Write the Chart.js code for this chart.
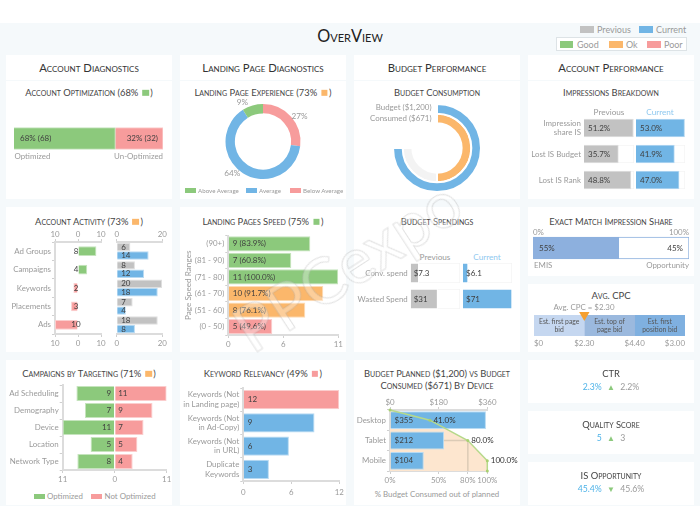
<!DOCTYPE html>
<html>
<head>
<meta charset="utf-8">
<script src="https://cdn.jsdelivr.net/npm/chart.js@4"></script>
<style>
  html, body { margin: 0; padding: 0; background: #fff; }
  #board { position: relative; width: 700px; height: 530px; overflow: hidden; font-family: Lato, sans-serif; color: #9a9a9a; }
  #board canvas { position: absolute; }
  .bg { position: absolute; left: 0; top: 23px; width: 700px; height: 483px; background: #f5f9fb; }
  .card { position: absolute; background: #fff; }
  .box { position: absolute; }
  .t { position: absolute; white-space: nowrap; transform: translateY(-50%); line-height: 1.1; font-size: 7.9px; }
  .t.c { transform: translate(-50%, -50%); text-align: center; }
  .t.r { transform: translate(-100%, -50%); text-align: right; }
  .title { font-variant: small-caps; color: #444; font-size: 9.4px; }
  .head { font-variant: small-caps; color: #333; font-size: 11.3px; }
  .legend { font-size: 9px; }
  .swatch { display: inline-block; width: 6.5px; height: 6.5px; margin: 0 1.5px; }
  #mark { position: absolute; left: 347px; top: 265px; transform: translate(-50%, -50%) rotate(-33deg); font-size: 64px; line-height: 1;
    color: rgba(255,255,255,.32); -webkit-text-stroke: 1px rgba(160,160,160,.3); pointer-events: none; white-space: nowrap; z-index: 5; }
</style>
</head>
<body>
<div id="board"><div class="bg"></div></div>
<script>
// colours
const GREEN = '#8cc97c', RED = '#f79c9c', BLUE = '#71b5e5', ORANGE = '#fbb76b', GREY = '#c2c2c2'
const GREEN_EDGE = '#c5e4bd', RED_EDGE = '#fbcdcd', BLUE_EDGE = '#b8daf2', ORANGE_EDGE = '#fddbb5', GREY_EDGE = '#e0e0e0'
const AXIS = '#dcdcdc', TICK = '#9a9a9a', INK = '#3f3f3f'

// account optimization
const optimizedShare = [68], unOptimizedShare = [32]
// landing page experience
const experienceNames = ['Above Average', 'Average', 'Below Average']
const experienceValues = [27, 64, 9]
const experienceLabels = ['27%', '64%', '9%']
// budget consumption
const budgetRing = [100], consumedRing = [66.7, 33.3]
// impressions breakdown
const impressionRows = [['Impression', 'share IS'], 'Lost IS Budget', 'Lost IS Rank']
const impressionPrevious = [51.2, 35.7, 48.8]
const impressionCurrent = [53.0, 41.9, 47.0]
// account activity
const activityRows = ['Ad Groups', 'Campaigns', 'Keywords', 'Placements', 'Ads']
const activityChange = [8, 4, -2, -3, -10]
const activityPrevious = [6, 8, 20, 7, 18]
const activityCurrent = [14, 12, 18, 4, 8]
// landing pages speed
const speedRows = ['(90+)', '(81 - 90)', '(71 - 80)', '(61 - 70)', '(51 - 60)', '(0 - 50)']
const speedBars = [8.2, 6.3, 11, 9.5, 7.7, 4.4]
const speedLabels = ['9 (83.9%)', '7 (60.8%)', '11 (100.0%)', '10 (91.7%)', '8 (76.1%)', '5 (49.6%)']
// budget spendings
const spendRows = ['Conv. spend', 'Wasted Spend']
const spendPrevious = [7.3, 31]
const spendCurrent = [6.1, 71]
// exact match impression share
const emisShare = [55], emisOpportunity = [45]
// avg. cpc
const cpcBands = [1, 1, 1]
const cpcTicks = ['$0', '$2.30', '$4.40', '$3.00']
// campaigns by targeting
const campaignRows = ['Ad Scheduling', 'Demography', 'Device', 'Location', 'Network Type']
const campaignOptimizedBars = [-8.1, -6.3, -11, -5.1, -7.9]
const campaignNotOptimizedBars = [11, 8, 6.1, 4.8, 3.8]
const campaignOptimized = ['9', '7', '11', '5', '8']
const campaignNotOptimized = ['11', '9', '7', '5', '4']
// keyword relevancy
const keywordRows = [['Keywords (Not', 'in Landing page)'], ['Keywords (Not', 'in Ad-Copy)'], ['Keywords (Not', 'in URL)'], ['Duplicate', 'Keywords']]
const keywordValues = [12, 8.9, 5.7, 3.2]
const keywordLabels = ['12', '9', '6', '3']
// budget by device
const deviceRows = ['Desktop', 'Tablet', 'Mobile']
const deviceBars = [355, 200, 125]
const deviceLabels = ['$355', '$212', '$104']
const cumulativeX = [0, 41, 80, 100, 100]
const cumulativeY = [3, 2.5, 1.5, 0.5, 0]
const cumulativeLabels = ['', '41.0%', '80.0%', '100.0%', '']
const percentTicks = [0, 50, 80, 100]

const board = document.getElementById('board')

function card (x, y, w, h) {
  const el = document.createElement('div')
  el.className = 'card'
  el.style.cssText = `left:${x}px;top:${y}px;width:${w}px;height:${h}px`
  board.appendChild(el)
  return el
}

function text (x, y, str, cls, style) {
  const el = document.createElement('div')
  el.className = 't ' + (cls || '')
  el.style.cssText = `left:${x}px;top:${y}px;` + (style || '')
  el.innerHTML = str
  board.appendChild(el)
  return el
}

function swatch (x, y, w, h, color, style) {
  const el = document.createElement('div')
  el.className = 'box'
  el.style.cssText = `left:${x}px;top:${y}px;width:${w}px;height:${h}px;background:${color};` + (style || '')
  board.appendChild(el)
  return el
}

// label drawn next to each bar or point, read from dataset.valueLabels
const valueLabels = {
  id: 'valueLabels',
  afterDatasetsDraw (chart) {
    const ctx = chart.ctx
    chart.data.datasets.forEach((ds, d) => {
      if (!ds.valueLabels) return
      chart.getDatasetMeta(d).data.forEach((el, i) => {
        const str = ds.valueLabels[i]
        if (!str) return
        const off = ds.labelOffset || 0
        const size = ds.labelSize || 8
        let x = el.x + off
        if (ds.labelAnchor === 'base') x = el.base + off
        if (ds.labelAnchor === 'zero') x = chart.scales[ds.xAxisID || 'x'].getPixelForValue(0) + off
        if (ds.labelAnchor === 'center') x = (el.x + el.base) / 2
        ctx.save()
        ctx.font = size + 'px Lato'
        ctx.fillStyle = ds.labelColor || INK
        ctx.textBaseline = 'middle'
        ctx.textAlign = ds.labelAnchor === 'center' ? 'center' : (ds.labelAlign || (off < 0 ? 'right' : 'left'))
        const lines = Array.isArray(str) ? str : [str]
        lines.forEach((line, n) => ctx.fillText(line, x, el.y + (n - (lines.length - 1) / 2) * (size + 1.5)))
        ctx.restore()
      })
    })
  }
}
Chart.register(valueLabels)

Chart.defaults.font.family = 'Lato, sans-serif'
Chart.defaults.font.size = 7.9
Chart.defaults.color = TICK
Chart.defaults.animation = false
Chart.defaults.responsive = false
Chart.defaults.layout.autoPadding = false
Chart.defaults.plugins.legend.display = false
Chart.defaults.plugins.tooltip.enabled = false
Chart.defaults.events = []

function draw (x, y, w, h, config) {
  const canvas = document.createElement('canvas')
  canvas.width = w
  canvas.height = h
  canvas.style.cssText = `left:${x}px;top:${y}px;width:${w}px;height:${h}px`
  board.appendChild(canvas)
  config.options = config.options || {}
  config.options.devicePixelRatio = 1
  return new Chart(canvas, config)
}

// fixed axis sizes, so the plot areas land where they should
function fitW (w) { return s => { s.width = w; s.paddingTop = 0; s.paddingBottom = 0 } }
function fitH (h) { return s => { s.height = h; s.paddingLeft = 0; s.paddingRight = 0 } }
function pad (left, top, right, bottom) { return { padding: { left, top, right, bottom } } }
const hidden = { display: false }
function edge (width) { return { color: AXIS, width: width || 2 } }
const tickGrid = { drawOnChartArea: false, tickLength: 3, color: '#cfcfcf' }

// plain layout pieces
card(6, 55, 166, 25); card(180, 55, 166, 25); card(354, 55, 166, 25); card(528, 55, 166, 25)
card(6, 81, 166, 118); card(180, 81, 166, 118); card(354, 81, 166, 118); card(528, 81, 166, 118)
card(6, 207, 166, 145); card(180, 207, 166, 145); card(354, 207, 166, 145)
card(528, 207, 166, 69); card(528, 284, 166, 68)
card(6, 360, 166, 145); card(180, 360, 166, 145); card(354, 360, 166, 145)
card(528, 360, 166, 43); card(528, 411, 166, 43); card(528, 462, 166, 43)

text(350, 36, 'OverView', 'c', 'font-variant:small-caps;font-size:16.3px;color:#222')
swatch(580, 26, 14, 7, GREY); text(597, 29.5, 'Previous', 'legend')
swatch(639, 26, 14, 7, BLUE); text(656, 29.5, 'Current', 'legend')
swatch(555.5, 37, 131, 14, '#fff', 'box-sizing:border-box;border:1px solid #dde3e6')
swatch(560, 41, 13, 7, GREEN); text(577, 44.5, 'Good', 'legend')
swatch(609, 41, 14, 7, ORANGE); text(626, 44.5, 'Ok', 'legend')
swatch(647, 41, 14, 7, RED); text(664, 44.5, 'Poor', 'legend')

text(89, 68, 'Account Diagnostics', 'c head')
text(263, 68, 'Landing Page Diagnostics', 'c head')
text(437, 68, 'Budget Performance', 'c head')
text(611, 68, 'Account Performance', 'c head')

const chip = c => `<span class="swatch" style="background:${c}"></span>`
text(89, 93, `Account Optimization (68% ${chip(GREEN)})`, 'c title')
text(263, 93, `Landing Page Experience (73% ${chip(ORANGE)})`, 'c title')
text(437, 93, 'Budget Consumption', 'c title')
text(611, 93, 'Impressions Breakdown', 'c title')
text(89, 222, `Account Activity (73% ${chip(ORANGE)})`, 'c title')
text(263, 222, `Landing Pages Speed (75% ${chip(GREEN)})`, 'c title')
text(437, 222, 'Budget Spendings', 'c title')
text(611, 222, 'Exact Match Impression Share', 'c title')
text(611, 296, 'Avg. CPC', 'c title', 'font-size:9.5px')
text(89, 374, `Campaigns by Targeting (71% ${chip(ORANGE)})`, 'c title')
text(263, 374, `Keyword Relevancy (49% ${chip(RED)})`, 'c title')
text(437, 373.5, 'Budget Planned ($1,200) vs Budget', 'c title')
text(437, 386, 'Consumed ($671) By Device', 'c title')

// account optimization
draw(14, 125, 149, 27, {
  type: 'bar',
  data: {
    labels: ['Account'],
    datasets: [
      { data: optimizedShare, backgroundColor: GREEN, borderColor: GREEN_EDGE, borderWidth: 1, barThickness: 22, valueLabels: ['68% (68)'], labelAnchor: 'base', labelOffset: 6 },
      { data: unOptimizedShare, backgroundColor: RED, borderColor: RED_EDGE, borderWidth: 1, barThickness: 22, valueLabels: ['32% (32)'], labelOffset: -5 }
    ]
  },
  options: {
    indexAxis: 'y',
    scales: { x: { display: false, stacked: true, min: 0, max: 100 }, y: { display: false, stacked: true } }
  }
})
text(14.5, 156, 'Optimized')
text(163, 156, 'Un-Optimized', 'r')

// landing page experience, labels sit outside the ring
const donutLabels = {
  id: 'donutLabels',
  afterDatasetsDraw (chart) {
    const ctx = chart.ctx
    const shift = [0.11, 0.2, -0.2]
    chart.getDatasetMeta(0).data.forEach((arc, i) => {
      const mid = (arc.startAngle + arc.endAngle) / 2 + shift[i]
      const r = arc.outerRadius + 7
      ctx.font = '8.2px Lato'
      ctx.fillStyle = TICK
      ctx.textAlign = 'center'
      ctx.textBaseline = 'middle'
      ctx.fillText(experienceLabels[i], arc.x + Math.cos(mid) * r, arc.y + Math.sin(mid) * r)
    })
  }
}
draw(180, 98, 166, 85, {
  type: 'doughnut',
  data: { labels: [experienceNames[2], experienceNames[1], experienceNames[0]], datasets: [{ data: experienceValues, backgroundColor: [RED, BLUE, GREEN], borderWidth: 0, hoverOffset: 0 }] },
  options: { cutout: '75%', layout: pad(45.5, 6, 45.5, 4) },
  plugins: [donutLabels]
})
swatch(185, 188, 11, 5, GREEN); text(198, 190.5, experienceNames[0], '', 'font-size:6.2px')
swatch(246, 188, 11, 5, BLUE); text(259, 190.5, experienceNames[1], '', 'font-size:6.2px')
swatch(290, 188, 11, 5, RED); text(303, 190.5, experienceNames[2], '', 'font-size:6.2px')

// budget consumption
draw(354, 100, 166, 96, {
  type: 'doughnut',
  data: {
    labels: ['Budget', 'Consumed', 'Left'],
    datasets: [
      { data: budgetRing, backgroundColor: [BLUE], borderColor: '#fff', borderWidth: 2, hoverOffset: 0 },
      { data: consumedRing, backgroundColor: [ORANGE, '#f3f3f3'], borderColor: '#fff', borderWidth: 2, hoverOffset: 0 }
    ]
  },
  options: { circumference: 270, cutout: '56%', layout: pad(38, 3, 38, 3) }
})
text(431.5, 107, 'Budget ($1,200)', 'r')
text(431.5, 117.5, 'Consumed ($671)', 'r')

// impressions breakdown
const impressionBar = (values, labels, color, rim, edgeColor, max) => [
  { data: values, backgroundColor: color, borderColor: edgeColor, borderWidth: 1, barThickness: 18, grouped: false, order: 1, valueLabels: labels, labelAnchor: 'base', labelOffset: 4 },
  { data: values.map(() => max), backgroundColor: '#fff', borderColor: rim, borderWidth: 1, barThickness: 18, grouped: false, order: 2 }
]
text(609, 112.5, 'Previous', 'c', 'font-size:8.2px')
text(660, 112.5, 'Current', 'c', 'font-size:8.2px;color:#8fc8ef')
draw(528, 115, 107, 78, {
  type: 'bar',
  data: { labels: impressionRows, datasets: impressionBar(impressionPrevious, impressionPrevious.map(v => v.toFixed(1) + '%'), GREY, '#f4f4f4', GREY_EDGE, 52) },
  options: {
    indexAxis: 'y',
    layout: pad(0, 0, 1, 0),
    scales: {
      x: { display: false, min: 0, max: 52 },
      y: { afterFit: fitW(56), grid: { display: false, drawTicks: false }, border: { display: false }, ticks: { padding: 3, autoSkip: false } }
    }
  }
})
draw(635, 115, 52, 78, {
  type: 'bar',
  data: { labels: impressionRows, datasets: impressionBar(impressionCurrent, impressionCurrent.map(v => v.toFixed(1) + '%'), BLUE, '#f4f4f4', BLUE_EDGE, 53.5) },
  options: {
    indexAxis: 'y',
    layout: pad(1, 0, 2, 0),
    scales: { x: { display: false, min: 0, max: 53.5 }, y: hidden }
  }
})

// account activity, change side
draw(6, 228, 100, 122, {
  type: 'bar',
  data: {
    labels: activityRows,
    datasets: [{
      data: activityChange,
      backgroundColor: activityChange.map(v => v > 0 ? GREEN : RED),
      borderColor: activityChange.map(v => v > 0 ? GREEN_EDGE : RED_EDGE),
      borderWidth: 1,
      categoryPercentage: 1,
      barPercentage: 0.53,
      valueLabels: activityChange.map(v => String(Math.abs(v))),
      labelAnchor: 'zero',
      labelOffset: -2,
      labelAlign: 'center'
    }]
  },
  options: {
    indexAxis: 'y',
    layout: pad(0, 0, 5, 0),
    scales: {
      x: { position: 'top', min: -10, max: 10, afterFit: fitH(14), grid: tickGrid, border: edge(), ticks: { stepSize: 10, padding: 0, maxRotation: 0, callback: v => Math.abs(v) } },
      x2: { axis: 'x', position: 'bottom', min: -10, max: 10, afterFit: fitH(16), grid: tickGrid, border: edge(), ticks: { stepSize: 10, padding: 2, maxRotation: 0, callback: v => Math.abs(v) } },
      y: { afterFit: fitW(49), grid: tickGrid, border: edge(), ticks: { padding: 1, autoSkip: false } }
    }
  }
})
// account activity, previous and current side
draw(110, 228, 58, 122, {
  type: 'bar',
  data: {
    labels: activityRows,
    datasets: [
      { label: 'Previous', data: activityPrevious, backgroundColor: GREY, borderColor: GREY_EDGE, borderWidth: 1, categoryPercentage: 0.92, barPercentage: 1, valueLabels: activityPrevious.map(String), labelAnchor: 'base', labelOffset: 4 },
      { label: 'Current', data: activityCurrent, backgroundColor: BLUE, borderColor: BLUE_EDGE, borderWidth: 1, categoryPercentage: 0.92, barPercentage: 1, valueLabels: activityCurrent.map(String), labelAnchor: 'base', labelOffset: 4 }
    ]
  },
  options: {
    indexAxis: 'y',
    layout: pad(6.7, 0, 5.7, 0),
    scales: {
      x: { position: 'top', min: 0, max: 20, afterFit: fitH(14), grid: tickGrid, border: edge(), ticks: { stepSize: 20, padding: 0, maxRotation: 0 } },
      x2: { axis: 'x', position: 'bottom', min: 0, max: 20, afterFit: fitH(16), grid: tickGrid, border: edge(), ticks: { stepSize: 20, padding: 2, maxRotation: 0 } },
      y: hidden
    }
  }
})

// landing pages speed
draw(180, 230, 166, 122, {
  type: 'bar',
  data: {
    labels: speedRows,
    datasets: [{
      data: speedBars,
      backgroundColor: [GREEN, GREEN, GREEN, ORANGE, ORANGE, RED],
      borderColor: [GREEN_EDGE, GREEN_EDGE, GREEN_EDGE, ORANGE_EDGE, ORANGE_EDGE, RED_EDGE],
      borderWidth: 1,
      categoryPercentage: 1,
      barPercentage: 0.92,
      valueLabels: speedLabels,
      labelAnchor: 'base',
      labelOffset: 4
    }]
  },
  options: {
    indexAxis: 'y',
    layout: pad(0, 5.5, 7.7, 0),
    scales: {
      x: { min: 0, max: 11, afterFit: fitH(17), grid: tickGrid, border: edge(), ticks: { stepSize: 5.5, padding: 2, maxRotation: 0, callback: v => Math.round(v) } },
      y: { afterFit: fitW(48.3), grid: tickGrid, border: edge(), ticks: { padding: 1, autoSkip: false }, title: { display: true, text: 'Page Speed Ranges', font: { size: 8.2 }, color: TICK, padding: { top: 3, bottom: 0 } } }
    }
  }
})

// budget spendings
text(435, 257.5, 'Previous', 'c', 'font-size:8.2px')
text(487, 257.5, 'Current', 'c', 'font-size:8.2px;color:#8fc8ef')
const spendBar = (values, color, edgeColor, max, least) => [
  { data: values, backgroundColor: color, borderColor: edgeColor, borderWidth: 1, barThickness: 20, minBarLength: least, grouped: false, order: 1, valueLabels: values.map(v => '$' + v), labelAnchor: 'base', labelOffset: 3 },
  { data: values.map(() => max), backgroundColor: '#fff', borderColor: '#f4f4f4', borderWidth: 1, barThickness: 20, grouped: false, order: 2 }
]
draw(354, 260, 107, 52, {
  type: 'bar',
  data: { labels: spendRows, datasets: spendBar(spendPrevious, GREY, '#fff', 57, 8) },
  options: {
    indexAxis: 'y',
    layout: pad(0, 0, 1, 0),
    scales: {
      x: { display: false, min: 0, max: 57 },
      y: { afterFit: fitW(56.7), grid: { display: false, drawTicks: false }, border: { display: false }, ticks: { padding: 3, autoSkip: false } }
    }
  }
})
draw(461, 260, 53, 52, {
  type: 'bar',
  data: { labels: spendRows, datasets: spendBar(spendCurrent, BLUE, '#fff', 71, 5) },
  options: {
    indexAxis: 'y',
    layout: pad(2, 0, 2, 0),
    scales: { x: { display: false, min: 0, max: 71 }, y: hidden }
  }
})

// exact match impression share
text(533, 232, '0%')
text(689, 232, '100%', 'r')
draw(533, 236, 156, 24, {
  type: 'bar',
  data: {
    labels: ['EMIS'],
    datasets: [
      { data: emisShare, backgroundColor: '#8db0de', borderColor: '#8db0de', borderWidth: 1, barThickness: 22, valueLabels: ['55%'], labelAnchor: 'base', labelOffset: 6 },
      { data: emisOpportunity, backgroundColor: '#fff', borderColor: '#8db0de', borderWidth: 1, barThickness: 22, valueLabels: ['45%'], labelOffset: -6 }
    ]
  },
  options: {
    indexAxis: 'y',
    scales: { x: { display: false, stacked: true, min: 0, max: 100 }, y: { display: false, stacked: true } }
  }
})
text(534, 265, 'EMIS')
text(689, 265, 'Opportunity', 'r')

// avg. cpc
text(584, 307, 'Avg. CPC = $2.30', 'c')
const bandNames = [['Est. first page', 'bid'], ['Est. top of', 'page bid'], ['Est. first', 'position bid']]
const bandColors = ['#c5d7f0', '#9bb9de', '#7fb0e0']
draw(534, 305, 151, 47, {
  type: 'bar',
  data: {
    labels: ['CPC'],
    datasets: [
      ...cpcBands.map((v, i) => ({ data: [v], backgroundColor: bandColors[i], barThickness: 21, grouped: false, order: 2, valueLabels: [bandNames[i]], labelAnchor: 'center', labelSize: 6.8, labelColor: '#555' })),
      { type: 'line', indexAxis: 'x', yAxisID: 'mark', data: [{ x: 1, y: 1 }], pointStyle: 'triangle', rotation: 180, pointRadius: 6, backgroundColor: '#f5a030', borderWidth: 0, clip: false, order: 0 }
    ]
  },
  options: {
    indexAxis: 'y',
    layout: pad(0, 10, 0, 0),
    scales: {
      x: { type: 'linear', stacked: true, min: 0, max: 3, afterFit: fitH(16), grid: { display: false, drawTicks: false }, border: { display: false }, ticks: { stepSize: 1, padding: 3, align: 'inner', maxRotation: 0, callback: v => cpcTicks[v] } },
      y: { type: 'category', display: false, stacked: true },
      mark: { type: 'linear', axis: 'y', display: false, offset: false, min: 0, max: 1 }
    }
  }
})

// kpi cards
const kpi = (y, title, now, arrow, before) => {
  text(611, y, title, 'c title')
  text(611, y + 13, `<span style="color:#4fb3e8">${now}</span> <span style="color:${GREEN};font-size:8px;margin:0 3px">${arrow}</span> <span>${before}</span>`, 'c', 'font-size:8.7px')
}
kpi(374, 'CTR', '2.3%', '▲', '2.2%')
kpi(425, 'Quality Score', '5', '▲', '3')
kpi(476, 'IS Opportunity', '45.4%', '▼', '45.6%')

// campaigns by targeting
draw(6, 380, 166, 108, {
  type: 'bar',
  data: {
    labels: campaignRows,
    datasets: [
      { label: 'Optimized', data: campaignOptimizedBars, backgroundColor: GREEN, borderColor: GREEN_EDGE, borderWidth: 1, categoryPercentage: 1, barPercentage: 0.88, valueLabels: campaignOptimized, labelAnchor: 'base', labelOffset: -3 },
      { label: 'Not Optimized', data: campaignNotOptimizedBars, backgroundColor: RED, borderColor: RED_EDGE, borderWidth: 1, categoryPercentage: 1, barPercentage: 0.88, valueLabels: campaignNotOptimized, labelAnchor: 'base', labelOffset: 3 }
    ]
  },
  options: {
    indexAxis: 'y',
    layout: pad(0, 5, 5.3, 0),
    scales: {
      x: { stacked: true, min: -11, max: 11, afterFit: fitH(18), grid: tickGrid, border: edge(), ticks: { stepSize: 11, padding: 2, maxRotation: 0, callback: v => Math.abs(v) } },
      y: { stacked: true, afterFit: fitW(56.7), grid: tickGrid, border: edge(), ticks: { padding: 1, autoSkip: false } }
    }
  }
})
swatch(34, 493.5, 10.5, 5, GREEN); text(47, 496, 'Optimized')
swatch(91, 493.5, 10.5, 5, RED); text(104.5, 496, 'Not Optimized')

// keyword relevancy
draw(180, 384, 166, 117, {
  type: 'bar',
  data: {
    labels: keywordRows,
    datasets: [{
      data: keywordValues,
      backgroundColor: [RED, BLUE, BLUE, BLUE],
      borderColor: [RED_EDGE, BLUE_EDGE, BLUE_EDGE, BLUE_EDGE],
      borderWidth: 1,
      categoryPercentage: 1,
      barPercentage: 0.83,
      valueLabels: keywordLabels,
      labelAnchor: 'base',
      labelOffset: 4
    }]
  },
  options: {
    indexAxis: 'y',
    layout: pad(0, 4, 6.7, 0),
    scales: {
      x: { min: 0, max: 12, afterFit: fitH(20), grid: tickGrid, border: edge(), ticks: { stepSize: 6, padding: 4, maxRotation: 0 } },
      y: { afterFit: fitW(63.3), grid: tickGrid, border: edge(), ticks: { padding: 1, autoSkip: false } }
    }
  }
})

// budget planned vs consumed by device
const cumulativePoints = cumulativeX.map((x, i) => ({ x, y: cumulativeY[i] }))
draw(354, 396, 166, 91, {
  type: 'bar',
  data: {
    labels: deviceRows,
    datasets: [
      { label: 'Consumed', data: deviceBars, backgroundColor: BLUE, borderColor: BLUE_EDGE, borderWidth: 1, categoryPercentage: 1, barPercentage: 0.88, grouped: false, order: 1, valueLabels: deviceLabels, labelAnchor: 'base', labelOffset: 4 },
      { type: 'line', indexAxis: 'x', xAxisID: 'pct', yAxisID: 'share', data: cumulativePoints, borderWidth: 0, pointRadius: 0, fill: { value: 0 }, backgroundColor: '#fde6cf', order: 4 },
      { type: 'line', indexAxis: 'x', xAxisID: 'pct', yAxisID: 'share', data: [{ x: 52, y: 1.5 }, { x: 80, y: 1.5 }, { x: 80, y: 0 }], borderColor: '#dccbb6', borderWidth: 1.5, pointRadius: 0, order: 3 },
      { type: 'line', indexAxis: 'x', xAxisID: 'pct', yAxisID: 'share', data: cumulativePoints, borderColor: '#b6d98a', borderWidth: 1.5, pointRadius: 1.5, pointBackgroundColor: '#a8d070', pointBorderWidth: 0, order: 0, clip: false, valueLabels: cumulativeLabels, labelOffset: 3.5, labelAlign: 'left', labelColor: '#333' }
    ]
  },
  options: {
    indexAxis: 'y',
    layout: pad(0, 0, 32.7, 0),
    scales: {
      x: { type: 'linear', position: 'top', min: 0, max: 360, afterFit: fitH(14), grid: tickGrid, border: edge(), ticks: { stepSize: 180, padding: 0, maxRotation: 0, callback: v => '$' + v } },
      pct: {
        type: 'linear', axis: 'x', position: 'bottom', min: 0, max: 100, afterFit: fitH(16), grid: tickGrid, border: edge(),
        afterBuildTicks: s => { s.ticks = percentTicks.map(value => ({ value })) },
        ticks: { padding: 2, maxRotation: 0, autoSkip: false, callback: v => v + '%' }
      },
      y: { type: 'category', afterFit: fitW(36), grid: tickGrid, border: edge(), ticks: { padding: 1, autoSkip: false } },
      share: { type: 'linear', axis: 'y', display: false, offset: false, min: 0, max: 3 }
    }
  }
})
text(437, 494, '% Budget Consumed out of planned', 'c')

// watermark
const mark = document.createElement('div')
mark.id = 'mark'
mark.textContent = 'PPCexpo'
board.appendChild(mark)
</script>
</body>
</html>
